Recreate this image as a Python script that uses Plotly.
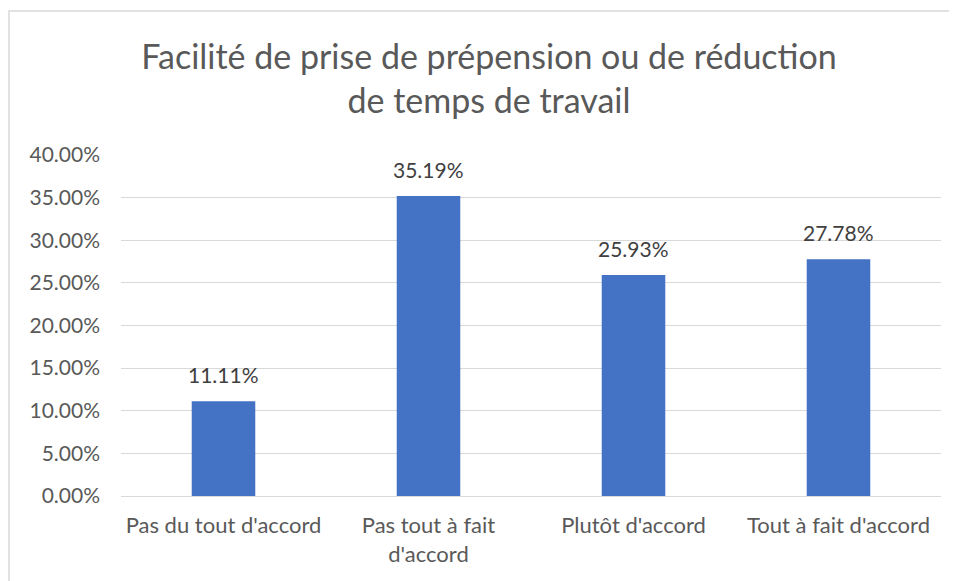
import plotly.graph_objects as go

categories = ["Pas du tout d'accord", "Pas tout à fait<br>d'accord", "Plutôt d'accord", "Tout à fait d'accord"]
values = [0.1111, 0.3519, 0.2593, 0.2778]
labels = ["11.11%", "35.19%", "25.93%", "27.78%"]
tick_vals = [0, 0.05, 0.10, 0.15, 0.20, 0.25, 0.30, 0.35, 0.40]
tick_text = ["0.00%", "5.00%", "10.00%", "15.00%", "20.00%", "25.00%", "30.00%", "35.00%", "40.00%"]

W, H = 957, 581
ml, mr, mt, mb = 113, 24, 147, 93
pw, ph = W - ml - mr, H - mt - mb

font_family = "Lato, Open Sans, sans-serif"

fig = go.Figure(go.Bar(
    x=categories, y=values,
    marker=dict(color="#4472C4", line=dict(width=0)),
    width=0.31,
    hoverinfo="x+y",
))

for c, v, t in zip(categories, values, labels):
    fig.add_annotation(x=c, y=v, text=t, showarrow=False, yanchor="bottom",
                       yshift=12, font=dict(size=21, color="#404040", family=font_family))

fig.update_layout(
    width=W, height=H,
    margin=dict(l=ml, r=mr, t=mt, b=mb),
    paper_bgcolor="white", plot_bgcolor="white",
    showlegend=False,
    title=dict(
        text="Facilité de prise de prépension ou de réduction<br>de temps de travail",
        x=481 / W, xanchor="center", y=0.895, yanchor="middle",
        font=dict(size=34, color="#595959", family=font_family),
    ),
    font=dict(family=font_family, color="#595959", size=21),
    xaxis=dict(showgrid=False, showline=True, linecolor="#D9D9D9", linewidth=1,
               ticks="", tickfont=dict(size=22, color="#595959"),
               ticklabelstandoff=10),
    yaxis=dict(range=[0, 0.40], tickvals=tick_vals, ticktext=tick_text,
               showgrid=True, gridcolor="#D9D9D9", gridwidth=1, zeroline=False,
               showline=False, ticks="", tickfont=dict(size=21, color="#595959"),
               ticklabelstandoff=20),
    shapes=[dict(type="rect", xref="paper", yref="paper",
                 x0=(1 - ml) / pw, x1=(W + 20 - ml) / pw,
                 y0=-(H + 20 - mt - ph) / ph, y1=(H - 3 - mb) / ph,
                 line=dict(color="#D9D9D9", width=1.5), fillcolor="rgba(0,0,0,0)",
                 layer="below")],
)

fig.write_html("out.html")
